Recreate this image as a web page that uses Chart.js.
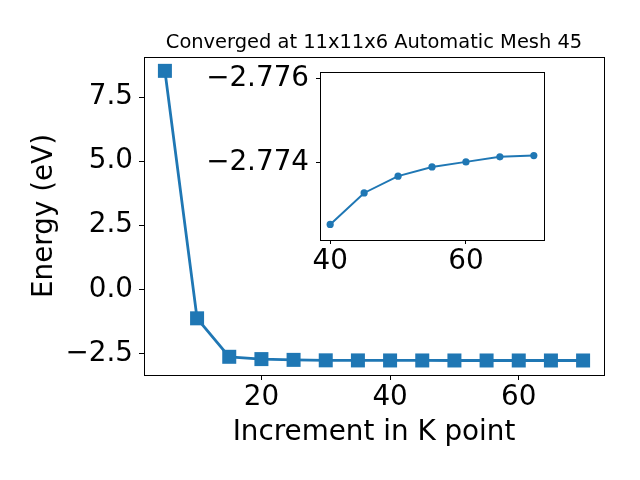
<!DOCTYPE html>
<html>
<head>
<meta charset="utf-8">
<script src="https://cdn.jsdelivr.net/npm/chart.js@4/dist/chart.umd.min.js"></script>
<style>
  html, body { margin: 0; padding: 0; background: #fff; }
  #wrap { position: relative; width: 640px; height: 480px; }
  #main { position: absolute; left: 0; top: 0; }
  #inset { position: absolute; left: 190px; top: 60px; }
</style>
</head>
<body>
<div id="wrap">
  <canvas id="main" width="640" height="480"></canvas>
  <canvas id="inset" width="370" height="225"></canvas>
</div>
<script>
// ---- data ----
const kPoints = [5, 10, 15, 20, 25, 30, 35, 40, 45, 50, 55, 60, 65, 70];
const energy = [8.52, -1.13, -2.63, -2.72, -2.75, -2.768, -2.771,
                -2.77252, -2.77327, -2.77367, -2.77389, -2.77401, -2.77413, -2.77416];
const insetK = [40, 45, 50, 55, 60, 65, 70];
const insetEnergy = [-2.77252, -2.77327, -2.77367, -2.77389, -2.77401, -2.77413, -2.77416];
const mainXTicks = [20, 40, 60];
const mainYTicks = [-2.5, 0.0, 2.5, 5.0, 7.5];
const insetXTicks = [40, 60];
const insetYTicks = [-2.776, -2.774];
const titleText = 'Converged at 11x11x6 Automatic Mesh 45';
const xLabel = 'Increment in K point';
const yLabel = 'Energy (eV)';

const BLUE = '#1f77b4';
const FONT = 'DejaVu Sans';
const TICK_PX = 27.8;
const fmt = (v, d) => {
  const s = Math.abs(v).toFixed(d);
  return (v < 0 ? '\u2212' : '') + s;
};

const framePlugin = {
  id: 'frame',
  beforeDraw(chart, args, opts) {
    if (opts.fill) {
      const a = chart.chartArea, ctx = chart.ctx;
      ctx.save();
      ctx.fillStyle = '#fff';
      ctx.fillRect(a.left, a.top, a.right - a.left, a.bottom - a.top);
      ctx.restore();
    }
  },
  afterDraw(chart, args, opts) {
    const a = chart.chartArea, ctx = chart.ctx;
    ctx.save();
    ctx.strokeStyle = '#000';
    ctx.lineWidth = 1;
    ctx.strokeRect(Math.round(a.left) + 0.5, Math.round(a.top) + 0.5,
      Math.round(a.right - a.left), Math.round(a.bottom - a.top));
    if (opts.title) {
      ctx.fillStyle = '#000';
      ctx.font = '19.44px "' + FONT + '"';
      ctx.textAlign = 'center';
      ctx.textBaseline = 'alphabetic';
      ctx.fillText(opts.title, (a.left + a.right) / 2, 48.3);
    }
    ctx.restore();
  }
};

const noPadY = s => { s.paddingTop = 0; s.paddingBottom = 0; };
const noPadX = s => { s.paddingLeft = 0; s.paddingRight = 0; };

Chart.defaults.font.family = FONT;
Chart.defaults.color = '#000';

new Chart(document.getElementById('main'), {
  type: 'line',
  data: {
    datasets: [{
      data: kPoints.map((x, i) => ({ x, y: energy[i] })),
      borderColor: BLUE,
      backgroundColor: BLUE,
      borderWidth: 2.8,
      pointStyle: 'rect',
      pointRadius: 9.9,
      pointBorderWidth: 0,
      pointHoverRadius: 9.9,
      tension: 0
    }]
  },
  options: {
    responsive: false,
    animation: false,
    devicePixelRatio: 1,
    layout: { padding: { top: 57, right: 36, left: 0, bottom: 0 } },
    plugins: {
      legend: { display: false },
      tooltip: { enabled: false },
      title: { display: false },
      frame: { fill: false, title: titleText }
    },
    scales: {
      x: {
        type: 'linear',
        min: 1.75, max: 73.25,
        afterBuildTicks: s => { s.ticks = mainXTicks.map(v => ({ value: v })); },
        afterFit: s => { s.height = 105; noPadX(s); },
        grid: { drawOnChartArea: false, drawTicks: true, tickLength: 5, color: '#000', tickWidth: 1 },
        border: { display: false },
        ticks: { font: { size: TICK_PX }, padding: 1, maxRotation: 0, callback: v => fmt(v, 0) },
        title: {
          display: true, text: xLabel,
          font: { size: TICK_PX, lineHeight: 1.2 },
          padding: { top: 0, bottom: 31 }
        }
      },
      y: {
        type: 'linear',
        min: -3.34, max: 9.06,
        afterBuildTicks: s => { s.ticks = mainYTicks.map(v => ({ value: v })); },
        afterFit: s => { s.width = 144; noPadY(s); },
        grid: { drawOnChartArea: false, drawTicks: true, tickLength: 5, color: '#000', tickWidth: 1 },
        border: { display: false },
        ticks: { font: { size: TICK_PX }, padding: 6, callback: v => fmt(v, 1) },
        title: {
          display: true, text: yLabel,
          font: { size: TICK_PX, lineHeight: 1.2 },
          padding: { top: 28, bottom: 0 }
        }
      }
    }
  },
  plugins: [framePlugin]
});

new Chart(document.getElementById('inset'), {
  type: 'line',
  data: {
    datasets: [{
      data: insetK.map((x, i) => ({ x, y: insetEnergy[i] })),
      borderColor: BLUE,
      backgroundColor: BLUE,
      borderWidth: 2,
      pointStyle: 'circle',
      pointRadius: 3.6,
      pointBorderWidth: 0,
      tension: 0
    }]
  },
  options: {
    responsive: false,
    animation: false,
    devicePixelRatio: 1,
    layout: { padding: { top: 12, right: 16, left: 0, bottom: 0 } },
    plugins: {
      legend: { display: false },
      tooltip: { enabled: false },
      title: { display: false },
      frame: { fill: true }
    },
    scales: {
      x: {
        type: 'linear',
        min: 38.5, max: 71.5,
        afterBuildTicks: s => { s.ticks = insetXTicks.map(v => ({ value: v })); },
        afterFit: s => { s.height = 45; noPadX(s); },
        grid: { drawOnChartArea: false, drawTicks: true, tickLength: 4, color: '#000', tickWidth: 1 },
        border: { display: false },
        ticks: { font: { size: TICK_PX }, padding: 1, maxRotation: 0, callback: v => fmt(v, 0) }
      },
      y: {
        type: 'linear',
        reverse: true,
        min: -2.77615, max: -2.77215,
        afterBuildTicks: s => { s.ticks = insetYTicks.map(v => ({ value: v })); },
        afterFit: s => { s.width = 130; noPadY(s); },
        grid: { drawOnChartArea: false, drawTicks: true, tickLength: 4, color: '#000', tickWidth: 1 },
        border: { display: false },
        ticks: { font: { size: TICK_PX }, padding: 7, callback: v => fmt(v, 3) }
      }
    }
  },
  plugins: [framePlugin]
});
</script>
</body>
</html>
